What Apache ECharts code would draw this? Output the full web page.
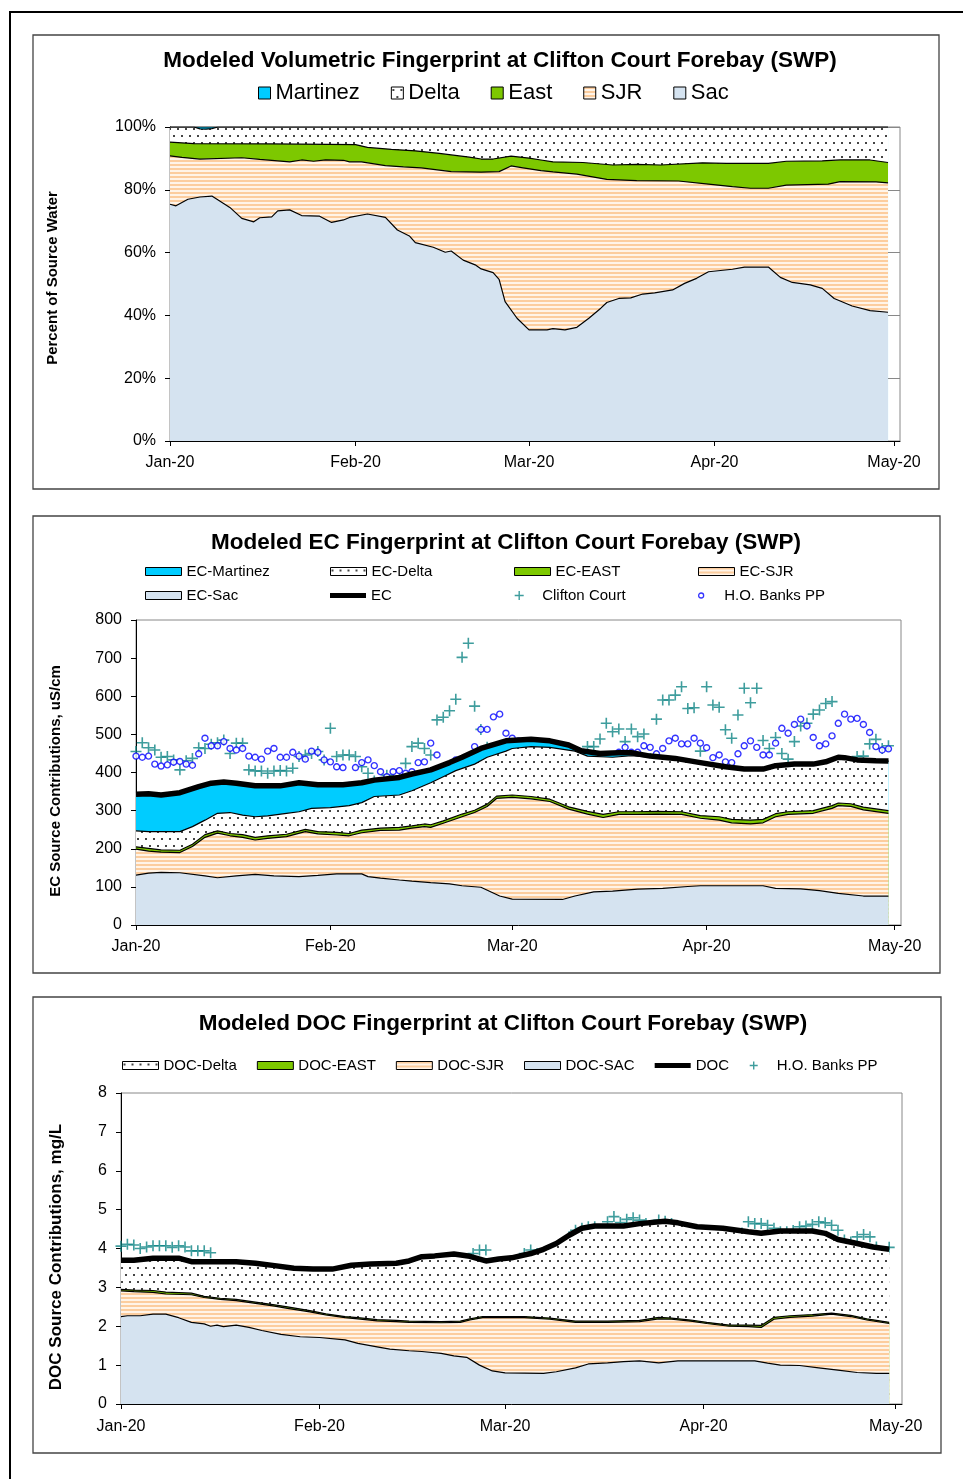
<!DOCTYPE html>
<html>
<head>
<meta charset="utf-8">
<title>Clifton Court Forebay fingerprints</title>
<script src="https://cdn.jsdelivr.net/npm/echarts@6/dist/echarts.min.js"></script>
<style>
  html, body { margin: 0; padding: 0; background: #fff; overflow: hidden; }
  #page { position: relative; width: 963px; height: 1479px; }
  #frame { position: absolute; left: 9px; top: 11px; width: 1000px; height: 1500px;
           border-top: 2px solid #000; border-left: 2px solid #000; }
  .chart { position: absolute; left: 0; width: 963px; }
</style>
</head>
<body>
<div id="page">
  <div id="frame"></div>
  <div id="vol" class="chart" style="top:0;height:495px"></div>
  <div id="ec" class="chart" style="top:500px;height:485px"></div>
  <div id="doc" class="chart" style="top:985px;height:494px"></div>
</div>
<script>
// x = days since 1 Jan 2020
const monthDays = [0, 31, 60, 91, 121];
const monthLabels = ['Jan-20', 'Feb-20', 'Mar-20', 'Apr-20', 'May-20'];

// --- volumetric fingerprint (%), top edge of each band ---
const volMartinezTop = [[0, 100], [120, 100]];
const volDeltaTop = [[0, 100], [4, 100], [5, 99.4], [6, 99.3], [7, 99.5], [8, 100], [120, 100]];
const volEastTop = [[0, 95.2], [4, 94.7], [17, 94.6], [31, 94.4], [33, 93.5], [37, 92.9], [41, 92.4], [45, 91.6],
  [50, 90.4], [52, 89.8], [54, 89.8], [57, 90.7], [60, 90.1], [62, 89.5], [64, 88.9], [69, 88.7], [74, 87.9],
  [78, 88.1], [82, 87.9], [89, 88.6], [93, 88.4], [100, 88.4], [103, 89.1], [109, 89.2], [112, 89.5], [117, 89.5], [120, 88.7]];
const volSjrTop = [[0, 90.8], [2, 90.3], [5, 89.8], [12, 90.2], [15, 89.7], [20, 88.9], [22, 89.5], [24, 89.1], [26, 89.5],
  [29, 89.4], [30, 88.9], [32, 88.9], [36, 87.7], [39, 87.3], [42, 87], [47, 85.8], [52, 85.6], [55, 85.8], [57, 87.6],
  [59, 87], [62, 86.1], [64, 85.7], [68, 85], [73, 83.3], [78, 82.9], [85, 82.8], [90, 81.8], [94, 81], [97, 80.5],
  [100, 80.5], [103, 81.5], [110, 81.8], [112, 82.6], [118, 82.5], [120, 82.2]];
const volSacTop = [[0, 75.4], [1, 74.9], [3, 77], [5, 77.7], [7, 78], [10, 74.4], [12, 70.9], [14, 69.8], [15, 71.1],
  [17, 71.4], [18, 73.3], [20, 73.6], [22, 71.8], [25, 71.6], [27, 69.6], [29, 70.4], [30, 71.2], [33, 72.3], [36, 71.2],
  [38, 67.2], [40, 65.3], [41, 63.2], [44, 61.7], [46, 60.1], [47, 60.5], [49, 57.6], [51, 56.1], [52, 54.8], [54, 53.6],
  [55, 51.5], [56, 44.4], [58, 39.1], [60, 35.4], [63, 35.4], [64, 35.8], [66, 35.4], [68, 36.2], [70, 39.1], [72, 42.3],
  [73, 44.1], [75, 45.4], [77, 45.6], [79, 46.8], [81, 47.2], [84, 48.1], [86, 50.2], [88, 51.8], [90, 53.9], [94, 54.7],
  [96, 55.4], [100, 55.4], [102, 52.1], [104, 50.5], [107, 49.7], [109, 48.6], [111, 45.4], [114, 43], [117, 41.5], [120, 41]];

// --- EC fingerprint (uS/cm) ---
const ecTotal = [[0, 343], [2, 344], [4, 341], [7, 347], [10, 363], [12, 372], [14, 375], [16, 372], [19, 365], [23, 365],
  [26, 373], [29, 368], [33, 368], [36, 373], [38, 380], [42, 387], [44, 396], [47, 407], [50, 426], [52, 440], [55, 463],
  [59, 483], [63, 487], [66, 483], [69, 472], [71, 457], [74, 450], [77, 452], [79, 452], [82, 443], [86, 437], [90, 426],
  [94, 415], [97, 409], [100, 409], [102, 418], [105, 422], [108, 422], [110, 428], [112, 440], [113, 439], [115, 433],
  [118, 431], [120, 430]];
const ecDeltaTop = [[0, 247], [2, 245], [7, 245], [9, 258], [11, 275], [13, 293], [15, 295], [17, 288], [19, 284], [21, 286],
  [24, 293], [26, 297], [28, 306], [31, 308], [34, 313], [36, 321], [38, 337], [42, 341], [44, 352], [47, 373], [49, 389],
  [51, 405], [54, 422], [56, 440], [59, 456], [60, 463], [63, 468], [66, 466], [70, 456], [72, 443], [76, 440], [79, 444],
  [82, 440], [86, 437], [90, 426], [94, 415], [97, 409], [100, 409], [102, 418], [105, 422], [108, 422], [110, 428],
  [112, 440], [113, 439], [115, 433], [118, 431], [120, 430]];
const ecEastTop = [[0, 205], [2, 201], [4, 197], [7, 196], [9, 212], [11, 237], [13, 247], [15, 240], [17, 237], [19, 230],
  [21, 234], [24, 238], [27, 251], [29, 245], [32, 243], [34, 240], [36, 249], [39, 254], [42, 256], [44, 260], [46, 265],
  [47, 263], [49, 273], [52, 291], [54, 301], [56, 317], [57.5, 338], [60, 341], [63, 337], [66, 330], [69, 310], [72, 298],
  [74.5, 290], [77, 297], [80, 297], [83, 298], [87, 297], [90, 287], [93, 284], [95, 277], [98, 275], [100, 277],
  [102, 292], [104, 297], [108, 300], [111, 313], [112, 320], [114, 318], [116, 309], [120, 300]];
const ecSjrTop = [[0, 199], [2, 194], [4, 191], [7, 190], [9, 206], [11, 230], [13, 241], [15, 234], [17, 230], [19, 223],
  [21, 227], [24, 232], [27, 245], [29, 239], [32, 236], [34, 234], [36, 242], [39, 248], [42, 249], [44, 254], [46, 258],
  [47, 256], [49, 267], [52, 284], [54, 295], [56, 311], [57.5, 332], [60, 335], [63, 331], [66, 324], [69, 304], [72, 291],
  [74.5, 282], [77, 290], [80, 290], [83, 291], [87, 290], [90, 280], [93, 275], [95, 268], [98, 265], [100, 268],
  [102, 284], [104, 290], [108, 293], [111, 306], [112, 313], [114, 311], [116, 302], [120, 293]];
const ecSacTop = [[0, 131], [2, 136], [4, 138], [7, 137], [11, 129], [13, 124], [16, 129], [19, 133], [22, 129], [26, 127],
  [29, 130], [32, 134], [36, 134], [37, 127], [39, 123], [42, 118], [44, 115], [47, 111], [50, 108], [52, 103], [55, 99],
  [58, 76], [60, 68], [68, 67], [70, 76], [73, 87], [76, 89], [80, 94], [84, 96], [88, 101], [90, 103], [100, 103],
  [102, 96], [106, 95], [109, 90], [112, 83], [116, 76], [120, 76]];
// daily observations, index = day
const ecClifton = [455, 478, 465, 459, 440, 442, 433, 407, 431, 437,
  465, 463, 474, 478, 485, 450, 477, 477, 407, 404,
  404, 398, 404, 405, 404, 411, 442, 446, 450, 455,
  433, 516, 442, 446, 446, 442, 415, 398, 378, 372,
  393, 385, 389, 424, 468, 477, 463, 446, 538, 545,
  562, 592, 702, 739, 574, 513, 466, 442, 417, 415,
  422, 422, 422, 422, 424, 422, 414, 414, 442, null,
  446, 440, 468, 468, 488, 529, 507, 514, 481, 514,
  494, 501, 437, 540, 590, 590, 603, 625, 568, 570,
  456, 625, 577, 571, 512, 490, 551, 621, 583, 621,
  484, 463, 492, 450, 435, 481, 522, 529, 553, 564,
  581, 586, 431, 396, 417, 442, 443, 475, 487, 463,
  470];
const ecBanks = [443, 440, 443, 422, 417, 420, 427, 429, 422, 419,
  449, 490, 470, 470, 481, 463, 459, 463, 443, 440,
  435, 456, 463, 440, 440, 453, 443, 435, 456, 453,
  433, 428, 415, 413, 366, 413, 426, 433, 418, 402,
  389, 402, 405, 398, 402, 426, 428, 477, 446, 415,
  415, 433, 435, 443, 468, 513, 513, 546, 553, 503,
  490, 483, 472, 466, 453, 450, 446, 433, 426, 420,
  437, 426, 422, 405, 396, 413, 428, 453, 466, 453,
  453, 470, 466, 449, 463, 483, 490, 475, 475, 490,
  477, 465, 439, 446, 428, 426, 449, 470, 483, 466,
  446, 446, 477, 516, 503, 526, 540, 522, 492, 470,
  475, 496, 529, 553, 540, 542, 526, 505, 468, 459,
  462];

// --- DOC fingerprint (mg/L) ---
const docTotal = [[0, 3.7], [2, 3.7], [5, 3.75], [9, 3.75], [11, 3.66], [18, 3.66], [21, 3.62], [24, 3.56], [27, 3.49],
  [30, 3.47], [33, 3.47], [36, 3.57], [39, 3.6], [43, 3.62], [45, 3.68], [47, 3.79], [49, 3.81], [52, 3.86], [54.5, 3.8],
  [57, 3.68], [59, 3.73], [61, 3.76], [64, 3.87], [66, 3.98], [68, 4.13], [70, 4.34], [72, 4.52], [74, 4.58], [78.5, 4.58],
  [81, 4.64], [85, 4.7], [87, 4.66], [90, 4.56], [94, 4.52], [98, 4.43], [100, 4.39], [103, 4.45], [108, 4.45], [110, 4.39],
  [112, 4.23], [115, 4.13], [117.5, 4.04], [120, 3.98]];
const docEastTop = [[0, 2.95], [2, 2.93], [5, 2.92], [7, 2.88], [11, 2.85], [13, 2.77], [15.5, 2.72], [18, 2.69], [21, 2.62],
  [24, 2.55], [26, 2.5], [29.5, 2.4], [32, 2.32], [35, 2.25], [37, 2.22], [40, 2.17], [43, 2.15], [45, 2.13], [50, 2.12],
  [53, 2.13], [54.5, 2.19], [56.5, 2.25], [63, 2.25], [67, 2.21], [71, 2.13], [76, 2.13], [81, 2.15], [84, 2.23], [86, 2.21],
  [89, 2.16], [91.5, 2.1], [95, 2.03], [98, 2.03], [100, 2.02], [102, 2.23], [104.5, 2.27], [108, 2.3], [111, 2.34],
  [114, 2.28], [116.5, 2.19], [120, 2.1]];
const docSjrTop = [[0, 2.91], [2, 2.89], [5, 2.87], [7, 2.83], [11, 2.81], [13, 2.74], [15.5, 2.69], [18, 2.66], [21, 2.59],
  [24, 2.52], [26, 2.46], [29.5, 2.37], [32, 2.29], [35, 2.22], [37, 2.19], [40, 2.14], [43, 2.12], [45, 2.1], [50, 2.09],
  [53, 2.1], [54.5, 2.16], [56.5, 2.22], [63, 2.22], [67, 2.18], [71, 2.1], [76, 2.1], [81, 2.12], [84, 2.19], [86, 2.18],
  [89, 2.13], [91.5, 2.07], [95, 2.0], [98, 1.99], [100, 1.97], [102, 2.18], [104.5, 2.23], [108, 2.26], [111, 2.31],
  [114, 2.25], [116.5, 2.16], [120, 2.07]];
const docSacTop = [[0, 2.25], [1, 2.27], [3, 2.27], [5, 2.31], [7, 2.31], [9, 2.22], [11, 2.1], [13, 2.06], [14, 2.0],
  [15, 2.03], [16, 1.99], [18, 2.03], [20, 1.97], [22, 1.89], [25, 1.79], [28, 1.73], [31, 1.71], [35, 1.65], [37, 1.56],
  [40, 1.47], [42, 1.41], [45, 1.37], [47, 1.35], [50, 1.3], [52, 1.24], [54, 1.2], [56, 1.0], [58, 0.85], [60, 0.8],
  [66, 0.79], [68, 0.83], [71, 0.93], [73, 1.03], [76, 1.06], [78.5, 1.09], [81, 1.11], [84, 1.06], [87, 1.11], [99, 1.11],
  [101, 1.05], [103, 1.0], [106, 0.99], [109, 0.93], [112, 0.87], [115, 0.81], [118, 0.79], [120, 0.79]];
const docBanks = [4.06, 4.11, 4.09, 4.00, 4.04, 4.07, 4.07, 4.07, 4.03, 4.07,
  4.04, 3.94, 3.94, 3.94, 3.89, null, null, null, null, null,
  null, null, null, null, null, null, null, null, null, null,
  null, null, null, null, null, null, null, null, null, null,
  null, null, null, null, null, null, null, null, null, null,
  null, null, null, null, null, 3.87, 3.96, 3.96, 3.54, 3.56,
  3.51, 3.49, 3.70, 3.87, 3.96, 3.87, 3.87, 3.92, 3.92, 4.09,
  4.30, 4.47, 4.52, 4.56, 4.56, 4.47, 4.69, 4.82, 4.67, 4.75,
  4.79, 4.73, 4.64, 4.60, 4.73, 4.70, 4.64, 4.56, 4.45, 4.43,
  4.41, 4.37, 4.34, 4.30, 4.24, 4.17, 4.13, 4.40, 4.69, 4.64,
  4.64, 4.60, 4.52, 4.43, 4.43, 4.46, 4.56, 4.58, 4.62, 4.69,
  4.66, 4.60, 4.47, 4.22, 4.17, 4.30, 4.36, 4.30, 4.04, 3.89,
  4.03];

const FONT = 'Liberation Sans, Arial, sans-serif';
const SAC = '#D5E3F0', EAST = '#7DC800', MARTINEZ = '#00CCFF', TEAL = '#0E8484';
const PLUS = 'path://M5,0V10M0,5H10';

function pattern(w, h, draw) {
  const c = document.createElement('canvas');
  c.width = w; c.height = h;
  draw(c.getContext('2d'));
  return { image: c, repeat: 'repeat' };
}
const dots = pattern(8, 14, g => {
  g.fillStyle = '#fff'; g.fillRect(0, 0, 8, 14);
  g.fillStyle = '#444'; g.fillRect(1, 2, 2, 2); g.fillRect(5, 9, 2, 2);
});
const stripes = pattern(4, 4, g => {
  g.fillStyle = '#FFF4E8'; g.fillRect(0, 0, 4, 4);
  g.fillStyle = '#FCCD9E'; g.fillRect(0, 0, 4, 2);
});

function daily(vals) {
  return vals.map((v, i) => v == null ? null : [i, v]).filter(Boolean);
}

function band(name, data, fill) {
  return {
    name: name, type: 'line', data: data, symbol: 'none', silent: true,
    lineStyle: { color: '#000', width: 1.2 },
    itemStyle: { color: '#000' },
    areaStyle: { color: fill, opacity: 1 }
  };
}

function boxIcon(name, fill) {
  return { name: name, icon: 'rect', itemStyle: { color: fill, borderColor: '#000', borderWidth: 1 } };
}

function panel(x, y, w, h) {
  return { type: 'rect', shape: { x: x, y: y, width: w, height: h }, silent: true,
    style: { fill: 'none', stroke: '#444', lineWidth: 1.3 } };
}

function dayAxis(margin) {
  return {
    type: 'value', min: 0, max: 122,
    axisLine: { show: true, lineStyle: { color: '#000', width: 1 } },
    axisTick: { show: true, customValues: monthDays, length: 5, lineStyle: { color: '#000' } },
    axisLabel: { customValues: monthDays, formatter: v => monthLabels[monthDays.indexOf(v)],
      color: '#000', fontSize: 16, margin: margin, fontFamily: FONT },
    splitLine: { show: false }
  };
}

function valueAxis(max, step, name, nameGap, nameSize, pad, fmt, grid) {
  return {
    type: 'value', min: 0, max: max, interval: step,
    name: name, nameLocation: 'middle', nameRotate: 90, nameGap: nameGap,
    nameTextStyle: { fontSize: nameSize, fontWeight: 'bold', color: '#000', fontFamily: FONT, padding: pad },
    axisLine: { show: true, lineStyle: { color: '#000', width: 1 } },
    axisTick: { show: true, length: 5, lineStyle: { color: '#000' } },
    axisLabel: { color: '#000', fontSize: 16, margin: 14, fontFamily: FONT, formatter: fmt },
    splitLine: { show: grid, lineStyle: { color: '#888', width: 1 } }
  };
}

function title(text, x, y) {
  return { text: text, left: x, top: y, textAlign: 'center', padding: 0,
    textStyle: { fontSize: 22.5, fontWeight: 'bold', color: '#000', fontFamily: FONT } };
}

// ---------- chart 1: volumetric ----------
const vol = echarts.init(document.getElementById('vol'));
vol.setOption({
  animation: false,
  graphic: [panel(33, 35, 906, 454)],
  title: title('Modeled Volumetric Fingerprint at Clifton Court Forebay (SWP)', 500, 49),
  legend: {
    left: 258, top: 82, padding: 0, itemGap: 31, itemWidth: 12, itemHeight: 12,
    textStyle: { fontSize: 22, color: '#000', fontFamily: FONT },
    data: [boxIcon('Martinez', MARTINEZ), boxIcon('Delta', dots), boxIcon('East', EAST),
      boxIcon('SJR', stripes), boxIcon('Sac', SAC)]
  },
  grid: { left: 170, top: 127, width: 730, height: 314, show: true, borderColor: '#888', borderWidth: 1,
    outerBoundsMode: 'none' },
  xAxis: dayAxis(14),
  yAxis: valueAxis(100, 20, 'Percent of Source Water', 110, 15, [0, 0, 0, 12], '{value}%', true),
  series: [
    band('Martinez', volMartinezTop, MARTINEZ),
    band('Delta', volDeltaTop, dots),
    band('East', volEastTop, EAST),
    band('SJR', volSjrTop, stripes),
    band('Sac', volSacTop, SAC)
  ]
});

// ---------- chart 2: EC ----------
function legendAt(x, y, h, item) {
  return { left: x, top: y, padding: 0, itemWidth: 36, itemHeight: h,
    textStyle: { fontSize: 15, color: '#000', fontFamily: FONT }, data: [item] };
}
const ec = echarts.init(document.getElementById('ec'));
ec.setOption({
  animation: false,
  graphic: [panel(33, 16, 907, 457)],
  title: title('Modeled EC Fingerprint at Clifton Court Forebay (SWP)', 506, 31),
  legend: [
    legendAt(145, 64, 8, boxIcon('EC-Martinez', MARTINEZ)),
    legendAt(330, 64, 8, boxIcon('EC-Delta', dots)),
    legendAt(514, 64, 8, boxIcon('EC-EAST', EAST)),
    legendAt(698, 64, 8, boxIcon('EC-SJR', stripes)),
    legendAt(145, 88, 8, boxIcon('EC-Sac', SAC)),
    legendAt(330, 88, 8, { name: 'EC', icon: 'path://M0,0H36V5H0Z', itemStyle: { color: '#000', borderWidth: 0 } }),
    legendAt(514, 88, 9, { name: 'Clifton Court', icon: PLUS,
      itemStyle: { color: 'transparent', borderColor: TEAL, borderWidth: 1.4 } }),
    legendAt(698, 88, 5, { name: 'H.O. Banks PP', icon: 'circle',
      itemStyle: { color: '#fff', borderColor: '#0000FF', borderWidth: 1.3 } })
  ],
  grid: { left: 136, top: 120, width: 765, height: 305, show: true, borderColor: '#888', borderWidth: 1,
    outerBoundsMode: 'none' },
  xAxis: dayAxis(14),
  yAxis: valueAxis(800, 100, 'EC Source Contributions, uS/cm', 73, 15, [0, 17, 0, 0], '{value}', false),
  series: [
    band('EC-Martinez', ecTotal, MARTINEZ),
    band('EC-Delta', ecDeltaTop, dots),
    band('EC-EAST', ecEastTop, EAST),
    band('EC-SJR', ecSjrTop, stripes),
    band('EC-Sac', ecSacTop, SAC),
    { name: 'EC', type: 'line', data: ecTotal, symbol: 'none', silent: true,
      lineStyle: { color: '#000', width: 5.5 }, itemStyle: { color: '#000' } },
    { name: 'Clifton Court', type: 'scatter', data: daily(ecClifton), symbol: PLUS, symbolSize: 11, silent: true,
      itemStyle: { color: 'transparent', borderColor: TEAL, borderWidth: 1.6 } },
    { name: 'H.O. Banks PP', type: 'scatter', data: daily(ecBanks), symbol: 'circle', symbolSize: 6, silent: true,
      itemStyle: { color: '#fff', borderColor: '#0000FF', borderWidth: 1.4 } }
  ]
});

// ---------- chart 3: DOC ----------
const doc = echarts.init(document.getElementById('doc'));
doc.setOption({
  animation: false,
  graphic: [panel(33, 12, 908, 456)],
  title: title('Modeled DOC Fingerprint at Clifton Court Forebay (SWP)', 503, 27),
  legend: {
    left: 122, top: 73, padding: 0, itemGap: 20, itemWidth: 36, itemHeight: 8,
    textStyle: { fontSize: 15, color: '#000', fontFamily: FONT },
    data: [
      boxIcon('DOC-Delta', dots), boxIcon('DOC-EAST', EAST), boxIcon('DOC-SJR', stripes), boxIcon('DOC-SAC', SAC),
      { name: 'DOC', icon: 'path://M0,0H36V5H0Z', itemStyle: { color: '#000', borderWidth: 0 } },
      { name: 'H.O. Banks PP', icon: PLUS, itemStyle: { color: 'transparent', borderColor: TEAL, borderWidth: 1.4 } }
    ]
  },
  grid: { left: 121, top: 108, width: 781, height: 311, show: true, borderColor: '#888', borderWidth: 1,
    outerBoundsMode: 'none' },
  xAxis: dayAxis(15),
  yAxis: valueAxis(8, 1, 'DOC Source Contributions, mg/L', 56, 17, [0, 17, 0, 0], '{value}', false),
  series: [
    band('DOC-Delta', docTotal, dots),
    band('DOC-EAST', docEastTop, EAST),
    band('DOC-SJR', docSjrTop, stripes),
    band('DOC-SAC', docSacTop, SAC),
    { name: 'DOC', type: 'line', data: docTotal, symbol: 'none', silent: true,
      lineStyle: { color: '#000', width: 5.5 }, itemStyle: { color: '#000' } },
    { name: 'H.O. Banks PP', type: 'scatter', data: daily(docBanks), symbol: PLUS, symbolSize: 11, silent: true,
      itemStyle: { color: 'transparent', borderColor: TEAL, borderWidth: 1.6 } }
  ]
});
</script>
</body>
</html>
